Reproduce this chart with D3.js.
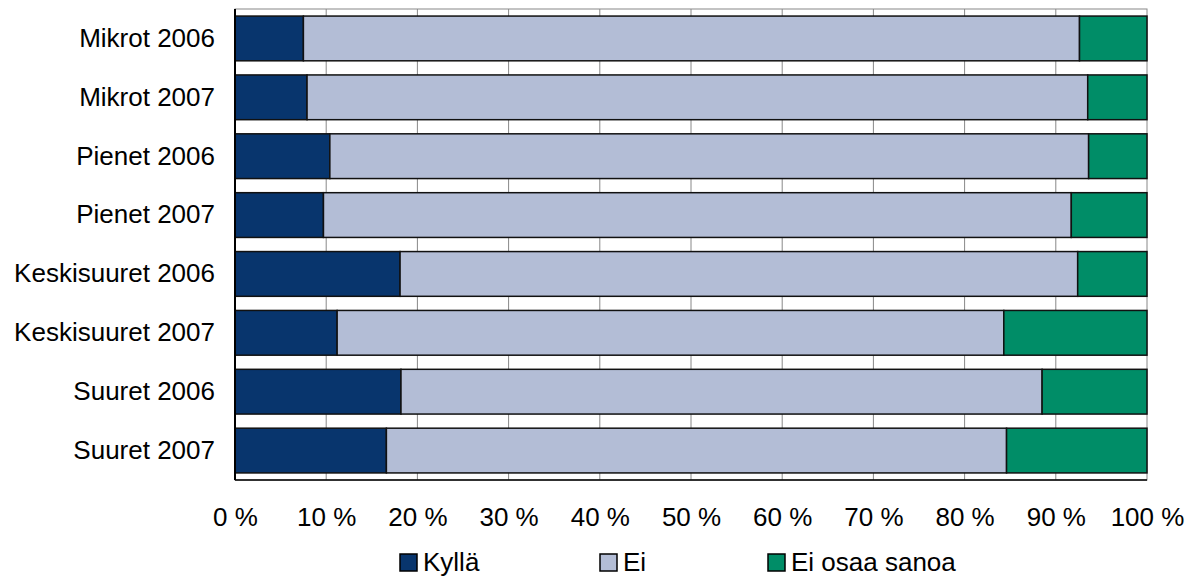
<!DOCTYPE html>
<html>
<head>
<meta charset="utf-8">
<script src="https://cdn.jsdelivr.net/npm/d3@7"></script>
<style>
  body { margin: 0; background: #fff; }
  text { font-family: "Liberation Sans", Arial, sans-serif; fill: #000; }
</style>
</head>
<body>
<svg class="chart"></svg>
<script>
// Stacked 100% bar chart

var categories = ["Mikrot 2006", "Mikrot 2007", "Pienet 2006", "Pienet 2007",
    "Keskisuuret 2006", "Keskisuuret 2007", "Suuret 2006", "Suuret 2007"];
var seriesNames = ["Kyllä", "Ei", "Ei osaa sanoa"];
var kylla = [7.5, 7.9, 10.4, 9.7, 18.1, 11.2, 18.2, 16.6];
var ei = [85.1, 85.6, 83.2, 82.0, 74.3, 73.1, 70.3, 68.0];
var eiOsaa = [7.4, 6.5, 6.4, 8.3, 7.6, 15.7, 11.5, 15.4];
var tickValues = [0, 10, 20, 30, 40, 50, 60, 70, 80, 90, 100];
var colors = ["#08356d", "#b3bdd6", "#008d67"];

var W = 1192, H = 577;
var margin = { top: 9, right: 45, bottom: 97, left: 235 };
var width = W - margin.left - margin.right;
var height = H - margin.top - margin.bottom;
var fontSize = "26px";

var svg = d3.select(".chart").attr("width", W).attr("height", H);
var chart = svg.append("g")
    .attr("transform", "translate(" + margin.left + "," + margin.top + ")");

// build rows for the stack
var rows = categories.map(function(c, i) {
    return { cat: c, "Kyllä": kylla[i], "Ei": ei[i], "Ei osaa sanoa": eiOsaa[i] };
});
var stacked = d3.stack().keys(seriesNames)(rows);

var x = d3.scaleLinear().domain([0, 100]).range([0, width]);
var y = d3.scaleBand().domain(categories).range([0, height]).paddingInner(0.24).paddingOuter(0.12);

// gridlines
chart.append("g")
    .selectAll("line")
    .data(tickValues.slice(1, -1))
    .enter().append("line")
    .attr("x1", function(d) { return x(d); })
    .attr("x2", function(d) { return x(d); })
    .attr("y1", 0)
    .attr("y2", height)
    .attr("stroke", "#888")
    .attr("stroke-width", 1);

// plot frame
chart.append("rect")
    .attr("width", width)
    .attr("height", height)
    .attr("fill", "none")
    .attr("stroke", "#888")
    .attr("stroke-width", 1);

// bars
chart.selectAll(".series")
    .data(stacked)
    .enter().append("g")
    .attr("class", "series")
    .attr("fill", function(d, i) { return colors[i]; })
    .selectAll("rect")
    .data(function(d) { return d; })
    .enter().append("rect")
    .attr("x", function(d) { return x(d[0]); })
    .attr("y", function(d) { return y(d.data.cat); })
    .attr("width", function(d) { return x(d[1]) - x(d[0]); })
    .attr("height", y.bandwidth())
    .attr("stroke", "#111")
    .attr("stroke-width", 1.5);

// left and bottom axis lines
chart.append("line")
    .attr("x1", 0).attr("x2", 0).attr("y1", 0).attr("y2", height)
    .attr("stroke", "#000").attr("stroke-width", 2);
chart.append("line")
    .attr("x1", 0).attr("x2", width).attr("y1", height).attr("y2", height)
    .attr("stroke", "#000").attr("stroke-width", 1.5);

// x axis labels
var xAxis = d3.axisBottom(x)
    .tickValues(tickValues)
    .tickSize(0)
    .tickPadding(28)
    .tickFormat(function(d) { return d + " %"; });
var gx = chart.append("g")
    .attr("transform", "translate(0," + height + ")")
    .call(xAxis);
gx.select(".domain").remove();
gx.selectAll("text").style("font-size", fontSize).style("font-family", "Liberation Sans, Arial, sans-serif");

// y axis labels
var yAxis = d3.axisLeft(y).tickSize(0).tickPadding(20);
var gy = chart.append("g").call(yAxis);
gy.select(".domain").remove();
gy.selectAll("text").style("font-size", fontSize).style("font-family", "Liberation Sans, Arial, sans-serif");

// legend
var legendX = [400, 600, 768];
var legend = svg.append("g")
    .selectAll("g")
    .data(seriesNames)
    .enter().append("g")
    .attr("transform", function(d, i) { return "translate(" + legendX[i] + ",554)"; });
legend.append("rect")
    .attr("width", 17)
    .attr("height", 17)
    .attr("fill", function(d, i) { return colors[i]; })
    .attr("stroke", "#000")
    .attr("stroke-width", 1.5);
legend.append("text")
    .attr("x", 23)
    .attr("y", 17)
    .style("font-size", fontSize)
    .text(function(d) { return d; });
</script>
</body>
</html>
